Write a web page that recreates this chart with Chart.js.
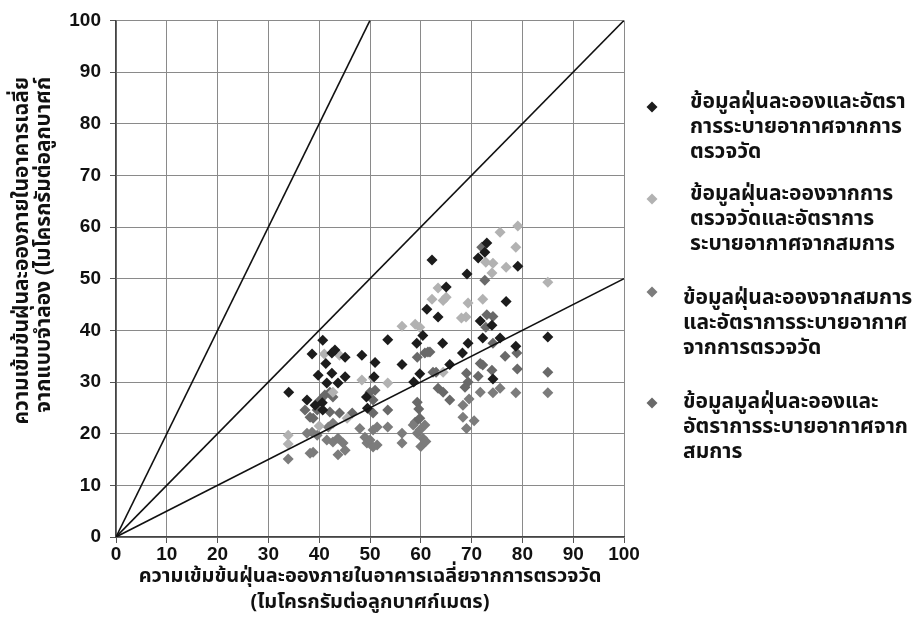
<!DOCTYPE html>
<html>
<head>
<meta charset="utf-8">
<script src="https://cdn.jsdelivr.net/npm/chart.js@4.4.0/dist/chart.umd.min.js"></script>
<style>
    html, body { margin: 0; padding: 0; background: #fff; }
</style>
</head>
<body>
<canvas id="myChart" width="920" height="631"></canvas>
<script>
// data: [x, y]
const measuredBoth = [
    [34, 28], [37.6, 26.5], [39.2, 25.5], [40.6, 26], [40.7, 24.6], [38.6, 35.4], [40.7, 38.1], [41.3, 33.6],
    [42.5, 35.6], [43.1, 36.2], [45.1, 34.8], [48.4, 35.2], [41.5, 29.8], [43.7, 29.8], [39.8, 31.3], [42.5, 31.7],
    [45.1, 31], [51, 33.8], [50.8, 31], [49.3, 27.1], [49.5, 24.9], [53.5, 38.2], [56.3, 33.4], [58.6, 30],
    [59.8, 31.6], [59.2, 37.5], [60.4, 39], [61.2, 44.1], [62.2, 53.6], [63.4, 42.6], [64.3, 37.5], [65, 48.4],
    [65.7, 33.4], [68.2, 35.6], [69.3, 37.5], [69.1, 50.9], [71.3, 54], [72.6, 55.1], [73, 56.9], [79.1, 52.4],
    [76.8, 45.6], [71.7, 41.8], [74, 41], [72.2, 38.5], [75.6, 38.5], [78.7, 36.9], [85, 38.7], [74.2, 30.6]
];
const measuredDustEqVent = [
    [79.1, 60.2], [75.6, 59], [78.7, 56.1], [72.8, 53.2], [74.2, 53], [76.8, 52.2], [74, 51.1], [85, 49.3],
    [72.2, 46], [69.3, 45.3], [68.9, 42.6], [68, 42.4], [63.4, 48.2], [65, 46.4], [64.4, 45.8], [62.2, 46],
    [56.3, 40.8], [58.9, 41.2], [59.8, 40.6], [41, 35.4], [44, 35.2], [48.4, 30.4], [53.5, 29.8], [64.4, 31.9],
    [33.9, 19.7], [33.9, 18], [50.6, 30.8], [42.7, 28], [45.5, 23], [40, 21.5]
];
const eqDustMeasuredVent = [
    [33.9, 15.1], [37.6, 20.1], [38.6, 20.3], [39.6, 19.7], [38.8, 16.4], [38.2, 16.2], [41.5, 18.8], [42.7, 18.4],
    [43.7, 19.1], [44.7, 18.2], [43.7, 15.9], [45.1, 16.8], [41.8, 21.3], [42.7, 22], [48, 21], [49, 19.3],
    [49.4, 18.2], [50, 18.8], [51.4, 21.3], [51.4, 17.8], [50.6, 20.7], [50.6, 17.4], [53.5, 21.3], [56.3, 20.1],
    [56.3, 18.2], [58.5, 21.7], [59.3, 20.1], [59.8, 20.7], [60.4, 19.1], [60.8, 21.7], [60, 17.5], [61, 18.5],
    [68.3, 23.2], [69, 21], [70.5, 22.5], [71.7, 28], [74.2, 27.9], [75.6, 28.8], [78.7, 27.9], [85, 27.9],
    [69.5, 26.7], [68.3, 25.5]
];
const eqBoth = [
    [72, 56.1], [72.6, 49.7], [73, 43], [74.2, 42.7], [72.8, 40.6], [74.2, 37.5], [76.6, 35], [78.9, 35.6],
    [71.7, 33.6], [72.2, 33.3], [69, 31.7], [71.3, 31.1], [74, 32.3], [79, 32.5], [85, 31.9], [69.3, 30],
    [60.8, 35.6], [61.8, 35.8], [59.3, 34.8], [63, 31.9], [62.4, 31.9], [63.4, 28.8], [64.4, 28], [65.7, 26.5],
    [68.7, 29], [59.3, 26.1], [59.6, 24.8], [58.9, 22.2], [59.8, 23], [41.1, 27.5], [42.1, 28], [42.7, 27.1],
    [40.2, 26.5], [38.2, 23.2], [38.8, 23], [51, 28.4], [44, 24], [53.5, 24.6], [50.6, 26.5], [50.6, 24],
    [50, 28], [39.6, 24.6], [37.2, 24.6], [42.1, 24.2], [46.5, 24], [61.4, 35.8]
];

// guide lines y = 2x, y = x, y = 0.5x (end points)
const guideX = [[0, 50], [0, 100], [0, 100]];
const guideY = [[0, 100], [0, 100], [0, 50]];

const seriesNames = [
    ["ข้อมูลฝุ่นละอองและอัตรา", "การระบายอากาศจากการ", "ตรวจวัด"],
    ["ข้อมูลฝุ่นละอองจากการ", "ตรวจวัดและอัตราการ", "ระบายอากาศจากสมการ"],
    ["ข้อมูลฝุ่นละอองจากสมการ", "และอัตราการระบายอากาศ", "จากการตรวจวัด"],
    ["ข้อมูลมูลฝุ่นละอองและ", "อัตราการระบายอากาศจาก", "สมการ"]
];
const seriesColors = ["#1c1c1c", "#b2b2b2", "#7c7c7c", "#696969"];

const xTitle = ["ความเข้มข้นฝุ่นละอองภายในอาคารเฉลี่ยจากการตรวจวัด", "(ไมโครกรัมต่อลูกบาศก์เมตร)"];
const yTitle = ["ความเข้มข้นฝุ่นละอองภายในอาคารเฉลี่ย", "จากแบบจำลอง (ไมโครกรัมต่อลูกบาศก์"];

const thaiFont = "'Noto Sans Thai', 'Loma', 'Garuda', 'Tahoma', 'DejaVu Sans', sans-serif";
const numFont = "'Liberation Sans', Arial, sans-serif";

const toXY = pts => pts.map(p => ({ x: p[0], y: p[1] }));
const pointSets = [measuredBoth, measuredDustEqVent, eqDustMeasuredVent, eqBoth];

const datasets = pointSets.map((pts, i) => ({
    label: seriesNames[i].join(""),
    data: toXY(pts),
    pointStyle: "rectRot",
    pointRadius: 5.5,
    pointBorderWidth: 0,
    backgroundColor: seriesColors[i],
    borderColor: seriesColors[i],
    showLine: false,
    order: i
}));

guideX.forEach((xs, i) => {
    datasets.push({
        label: "guide" + i,
        data: xs.map((x, j) => ({ x: x, y: guideY[i][j] })),
        showLine: true,
        borderColor: "#111",
        borderWidth: 1.6,
        pointRadius: 0,
        fill: false,
        order: -1
    });
});

// y axis title, two rotated lines ending near the top
const yTitlePlugin = {
    id: "yTitle",
    afterDraw(chart) {
        const ctx = chart.ctx;
        ctx.save();
        ctx.fillStyle = "#111";
        ctx.font = "bold 21px " + thaiFont;
        ctx.textAlign = "right";
        ctx.textBaseline = "middle";
        const xs = [24, 46];
        yTitle.forEach((t, i) => {
            ctx.save();
            ctx.translate(xs[i], 77);
            ctx.rotate(-Math.PI / 2);
            ctx.fillText(t, 0, 0);
            ctx.restore();
        });
        ctx.restore();
    }
};

// legend on the right
const legendPlugin = {
    id: "sideLegend",
    afterDraw(chart) {
        const ctx = chart.ctx;
        const marks = [[652, 107], [652, 199], [652, 292], [652, 403]];
        const textX = [690, 690, 683, 683];
        const firstLine = [104, 196, 300, 404];
        ctx.save();
        seriesNames.forEach((lines, i) => {
            const [mx, my] = marks[i];
            ctx.fillStyle = seriesColors[i];
            ctx.beginPath();
            ctx.moveTo(mx, my - 5.5);
            ctx.lineTo(mx + 5.5, my);
            ctx.lineTo(mx, my + 5.5);
            ctx.lineTo(mx - 5.5, my);
            ctx.closePath();
            ctx.fill();
            ctx.fillStyle = "#111";
            ctx.font = "bold 21px " + thaiFont;
            ctx.textAlign = "left";
            ctx.textBaseline = "middle";
            lines.forEach((t, j) => ctx.fillText(t, textX[i], firstLine[i] + j * 25));
        });
        ctx.restore();
    }
};

new Chart(document.getElementById("myChart"), {
    type: "scatter",
    data: { datasets },
    options: {
        responsive: false,
        animation: false,
        layout: { padding: { left: 0, top: 20, right: 296, bottom: 0 } },
        plugins: {
            legend: { display: false },
            tooltip: { enabled: false }
        },
        scales: {
            x: {
                type: "linear",
                min: 0,
                max: 100,
                afterFit: scale => { scale.height = 94; },
                ticks: {
                    stepSize: 10,
                    padding: 0,
                    color: "#111",
                    font: { family: numFont, size: 19, weight: "bold" }
                },
                grid: { color: "#8a8a8a", lineWidth: 1, tickLength: 6, tickColor: "#555" },
                border: { color: "#444", width: 1.5 },
                title: {
                    display: true,
                    text: xTitle,
                    color: "#111",
                    font: { family: thaiFont, size: 20, weight: "bold", lineHeight: 1.3 },
                    padding: { top: 0, bottom: 14 }
                }
            },
            y: {
                type: "linear",
                min: 0,
                max: 100,
                afterFit: scale => { scale.width = 116; },
                ticks: {
                    stepSize: 10,
                    padding: 9,
                    color: "#111",
                    font: { family: numFont, size: 19, weight: "bold" }
                },
                grid: { color: "#8a8a8a", lineWidth: 1, tickLength: 6, tickColor: "#555" },
                border: { color: "#444", width: 1.5 }
            }
        }
    },
    plugins: [yTitlePlugin, legendPlugin]
});
</script>
</body>
</html>
